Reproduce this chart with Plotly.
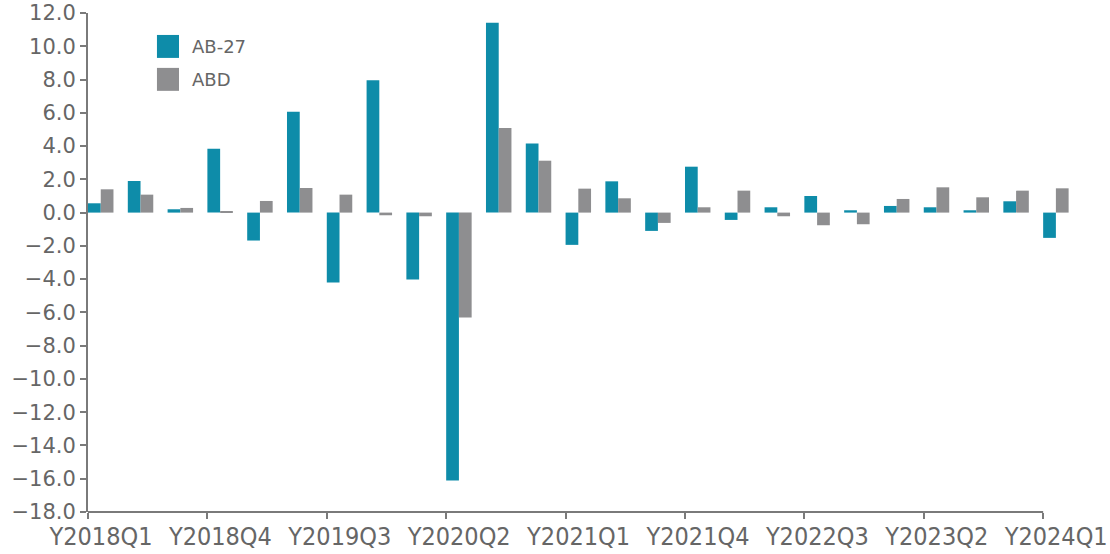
import plotly.graph_objects as go

# 분기 라벨
quarters = [f"Y{y}Q{q}" for y in range(2018, 2025) for q in range(1, 5)][:25]

ab27 = [0.56, 1.9, 0.2, 3.84, -1.68, 6.07, -4.2, 7.95, -4.02, -16.1, 11.42, 4.15,
        -1.94, 1.88, -1.1, 2.76, -0.44, 0.32, 1.0, 0.14, 0.4, 0.32, 0.14, 0.68, -1.52]
abd = [1.4, 1.08, 0.28, 0.05, 0.7, 1.48, 1.08, -0.16, -0.22, -6.3, 5.09, 3.12,
       1.44, 0.86, -0.62, 0.32, 1.32, -0.22, -0.76, -0.7, 0.82, 1.52, 0.92, 1.32, 1.46]

tick_labels = quarters[::3]
y_ticks = list(range(-18, 13, 2))

TEAL = "#0e8ca9"
GRAY = "#8e8e90"
TXT = "#666666"
AXIS = "#7a7a7a"

fig = go.Figure()
fig.add_trace(go.Bar(x=quarters, y=ab27, name="AB-27", marker_color=TEAL,
                     width=0.32, offset=0, marker_line_width=0))
fig.add_trace(go.Bar(x=quarters, y=abd, name="ABD", marker_color=GRAY,
                     width=0.32, offset=0.32, marker_line_width=0))

fig.update_layout(
    width=1110, height=554,
    margin=dict(l=88, r=37, t=13, b=42),
    paper_bgcolor="white", plot_bgcolor="white",
    barmode="overlay", showlegend=False,
    font=dict(family="DejaVu Sans", color=TXT),
)
fig.update_xaxes(
    type="category", range=[0, 24.75], automargin=False,
    tickmode="array", tickvals=tick_labels, ticktext=tick_labels,
    ticks="outside", ticklen=6, tickwidth=2, tickcolor=AXIS,
    ticklabelstandoff=-4, ticklabelshift=13,
    tickfont=dict(family="DejaVu Sans Condensed", size=25, color=TXT),
    showgrid=False, showline=False, zeroline=False,
)
fig.update_yaxes(
    range=[-18, 12], tickvals=y_ticks, tickformat=".1f", automargin=False,
    ticks="outside", ticklen=6, tickwidth=2, tickcolor=AXIS,
    tickfont=dict(family="DejaVu Sans", size=21, color=TXT),
    showgrid=False, showline=True, linecolor=AXIS, linewidth=2, zeroline=False,
)

# x축 선 (마지막 눈금까지만)
fig.add_shape(type="line", xref="x", yref="paper", x0=0, x1=24, y0=0, y1=0,
              line=dict(color=AXIS, width=2))

# 범례 직접 그리기
for i, (name, col) in enumerate([("AB-27", TEAL), ("ABD", GRAY)]):
    y_top = 0.956 - i * 0.066
    fig.add_shape(type="rect", xref="paper", yref="paper",
                  x0=0.070, x1=0.0924, y0=y_top - 0.046, y1=y_top,
                  fillcolor=col, line_width=0)
    fig.add_annotation(xref="paper", yref="paper", x=0.1036, y=y_top - 0.023,
                       text=name, showarrow=False, xanchor="left", yanchor="middle",
                       font=dict(family="DejaVu Sans", size=18, color=TXT))

# body 기본 여백 제거
fig.write_html("out.html", config={"displayModeBar": False},
               post_script="document.body.style.margin='0';")
